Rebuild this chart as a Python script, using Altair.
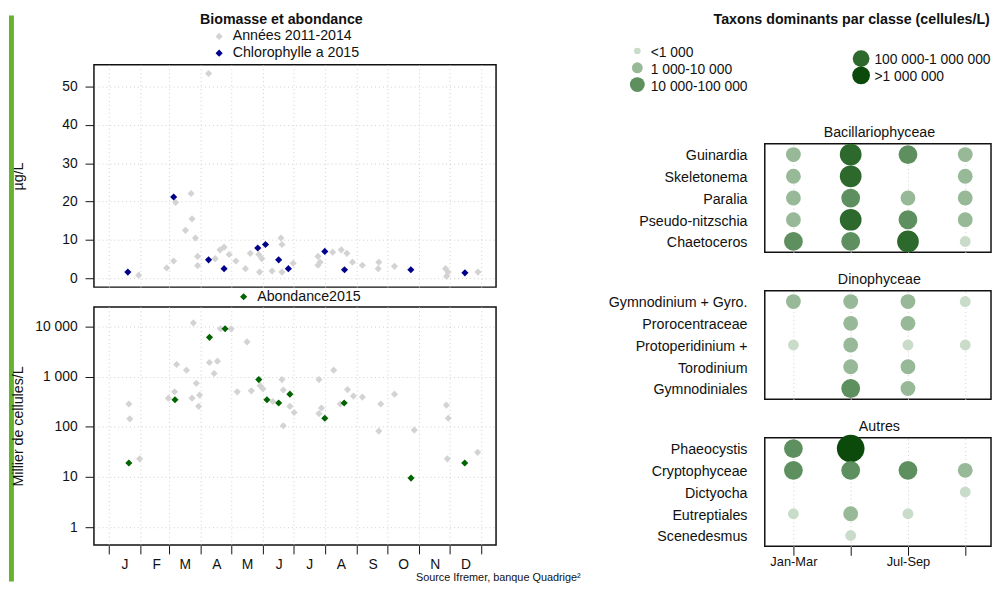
import json
import altair as alt
import pandas as pd

FONT = "Liberation Sans"
INK = "#111111"

# ---------------- data : chlorophylle a (µg/L) by day of year ----------------
chl_hist_day = [29.4, 56.8, 63.6, 65.5, 75.2, 80.7, 81.6, 84.9, 87.1, 87.1, 97.8, 104.3, 109.0, 113.0,
                118.0, 124.6, 133.9, 138.7, 147.0, 147.8, 150.0, 160.0, 168.7, 169.7, 169.7, 180.7,
                205.0, 205.0, 207.0, 219.4, 227.8, 233.3, 238.8, 248.5, 264.6, 264.0, 280.0, 330.0,
                332.4, 331.0, 361.8]
chl_hist_val = [0.8, 2.7, 4.5, 19.8, 12.5, 22.1, 15.5, 10.5, 5.7, 3.3, 53.4, 5.1, 7.4, 8.1,
                6.2, 4.5, 2.5, 6.5, 6.2, 1.6, 5.1, 1.9, 10.5, 8.8, 1.6, 3.9,
                5.7, 3.4, 4.2, 6.8, 7.4, 6.5, 4.2, 3.4, 4.2, 2.5, 3.1, 2.5,
                1.6, 0.5, 1.6]
chl_2015_day = [18.7, 63.6, 97.8, 113.0, 146.0, 153.6, 166.5, 176.0, 211.7, 231.0, 296.0, 349.0]
chl_2015_val = [1.6, 21.2, 4.8, 2.5, 7.9, 8.8, 4.8, 2.5, 7.0, 2.2, 2.2, 1.4]

# ---------------- data : abondance (milliers de cellules/L) ----------------
ab_hist_day = [19.7, 20.6, 30.3, 58.4, 64.5, 66.5, 76.2, 82.9, 81.6, 85.8, 88.1, 89.0, 98.7, 103.3,
               106.5, 109.5, 120.0, 125.9, 135.5, 139.7, 148.4, 151.0, 160.7, 169.7, 171.0, 171.0,
               177.5, 181.7, 206.0, 208.4, 206.0, 220.4, 226.8, 234.0, 239.8, 248.5, 264.6, 266.5,
               280.0, 299.4, 330.8, 332.7, 331.8, 361.4]
ab_hist_val = [284, 144, 23, 372, 498, 1740, 1340, 11700, 372, 735, 255, 427, 1910, 1150,
               2030, 8950, 8900, 497, 4900, 520, 660, 570, 318, 870, 540, 105,
               255, 192, 870, 236, 183, 1340, 284, 550, 408, 390, 82, 284,
               447, 86, 270, 148, 23, 31]
ab_2015_day = [19.7, 64.9, 98.7, 114.0, 147.0, 155.0, 166.5, 177.5, 211.7, 230.7, 296.2, 348.8]
ab_2015_val = [19, 345, 6050, 8950, 870, 345, 297, 447, 148, 297, 9.5, 19]

month_starts = [0, 31, 59, 90, 120, 151, 181, 212, 243, 273, 304, 334, 365]
month_letters = ["J", "F", "M", "A", "M", "J", "J", "A", "S", "O", "N", "D"]

LEG_HIST = "Années 2011-2014"
LEG_CHL = "Chlorophylle a 2015"
LEG_AB = "Abondance2015"
TITLE_LEFT = "Biomasse et abondance"
TITLE_RIGHT = "Taxons dominants par classe (cellules/L)"
SOURCE = "Source Ifremer, banque Quadrige²"

# ---------------- data : taxons dominants (classe 0 = absent) ----------------
quarters = ["Jan-Mar", "Avr-Jun", "Jul-Sep", "Oct-Déc"]
quarter_shown = [True, False, True, False]
bac_taxa = ["Guinardia", "Skeletonema", "Paralia", "Pseudo-nitzschia", "Chaetoceros"]
bac_cls = [[2, 4, 3, 2], [2, 4, 0, 2], [2, 3, 2, 2], [2, 4, 3, 2], [3, 3, 4, 1]]
din_taxa = ["Gymnodinium + Gyro.", "Prorocentraceae", "Protoperidinium +", "Torodinium", "Gymnodiniales"]
din_cls = [[2, 2, 2, 1], [0, 2, 2, 0], [1, 2, 1, 1], [0, 2, 2, 0], [0, 3, 2, 0]]
aut_taxa = ["Phaeocystis", "Cryptophyceae", "Dictyocha", "Eutreptiales", "Scenedesmus"]
aut_cls = [[3, 5, 0, 0], [3, 3, 3, 2], [0, 0, 0, 1], [1, 2, 1, 0], [0, 1, 0, 0]]
leg_labels = ["<1 000", "1 000-10 000", "10 000-100 000", "100 000-1 000 000", "\u00a0>1 000 000"]
leg_cls = [1, 2, 3, 4, 5]

# ---------------- styles ----------------
BUB_T = [1.5, 2.5, 3.5, 4.5]
BUB_COLORS = ["#c9dcc9", "#97b997", "#5e8f5e", "#2d692d", "#0b4a0b"]
BUB_SIZES = [121, 225, 361, 484, 784]
LEG_SIZES = [45, 121, 225, 289, 324]
GRID = dict(grid=True, gridColor="#cfcfcf", gridDash=[1, 3], gridWidth=1)

W_L, H_TOP, H_BOT = 407, 225, 241
X_DOM = [-14.5, 379.5]
W_R, H_R = 229, 110
Q_DOM = [0.5, 4.45]

one = pd.DataFrame({"k": [0]})


def label_text(txt, x, y, size=14.4, weight="normal"):
    return alt.Chart(pd.DataFrame({"t": [txt]})).mark_text(
        fontSize=size, fontWeight=weight, align="center", baseline="middle", color=INK).encode(
        x=alt.value(x), y=alt.value(y), text="t:N")


# ---------------- left : biomasse ----------------
x_scale = alt.Scale(domain=X_DOM, nice=False, zero=False)

bar = alt.Chart(one).mark_rect(color="#67b22f").encode(
    x=alt.value(-86), x2=alt.value(-81), y=alt.value(-50), y2=alt.value(523))

chl_df = pd.DataFrame({
    "day": chl_hist_day + chl_2015_day,
    "val": chl_hist_val + chl_2015_val,
    "serie": [LEG_HIST] * len(chl_hist_day) + [LEG_CHL] * len(chl_2015_day),
})

y_axis_common = dict(domain=False, tickSize=9, tickColor=INK, labelFontSize=14, labelColor=INK,
                     labelPadding=8, titleFontSize=14.4, titleFontWeight="normal", titleColor=INK,
                     titleAngle=270, titleX=-76, titleAlign="center", titleBaseline="middle",
                     labelOverlap=False)

top_pts = alt.Chart(chl_df).mark_point(shape="diamond", filled=True, size=52, opacity=1).encode(
    x=alt.X("day:Q", scale=x_scale,
            axis=alt.Axis(values=month_starts, labels=False, ticks=False, domain=False, title=None, **GRID)),
    y=alt.Y("val:Q", scale=alt.Scale(domain=[-2.32, 55.67], nice=False, zero=False),
            axis=alt.Axis(values=[0, 10, 20, 30, 40, 50], title="µg/L", titleY=H_TOP / 2,
                          **y_axis_common, **GRID)),
    color=alt.Color("serie:N", scale=alt.Scale(domain=[LEG_HIST, LEG_CHL], range=["#d3d3d3", "#00008b"]),
                    legend=alt.Legend(title=None, orient="none", legendX=119.5, legendY=-36,
                                      direction="vertical", symbolType="diamond", symbolSize=52,
                                      symbolStrokeWidth=0, symbolOpacity=1, labelFontSize=14.4,
                                      labelColor=INK, labelOffset=6.5, rowPadding=2, padding=0)),
)

top = alt.layer(bar, top_pts, label_text(TITLE_LEFT, 189.7, -45, weight="bold")).properties(
    width=W_L, height=H_TOP)

# ---------------- left : abondance ----------------
month_expr = f"{json.dumps(month_letters + [''])}[indexof({json.dumps(month_starts)}, datum.value)]"

x_ab = alt.X("day:Q", scale=x_scale,
             axis=alt.Axis(values=month_starts, labelExpr=month_expr, labelOffset=16, tickSize=9,
                           tickColor=INK, domain=False, title=None, labelFontSize=14, labelColor=INK,
                           labelPadding=11, labelBaseline="middle", labelFlush=False,
                           labelOverlap=False, labelSeparation=0, **GRID))
y_ab = alt.Y("val:Q", scale=alt.Scale(type="log", domain=[0.4425, 24420], nice=False),
             axis=alt.Axis(values=[1, 10, 100, 1000, 10000],
                           labelExpr="datum.value >= 1000 ? format(datum.value / 1000, 'd') + ' 000' : format(datum.value, 'd')",
                           title="Millier de cellules/L", titleY=H_BOT / 2, **y_axis_common, **GRID))

ab_grey = alt.Chart(pd.DataFrame({"day": ab_hist_day, "val": ab_hist_val})).mark_point(
    shape="diamond", filled=True, size=52, opacity=1, color="#d3d3d3").encode(x=x_ab, y=y_ab)
ab_green = alt.Chart(pd.DataFrame({"day": ab_2015_day, "val": ab_2015_val,
                                   "serie": [LEG_AB] * len(ab_2015_day)})).mark_point(
    shape="diamond", filled=True, size=52, opacity=1).encode(
    x=x_ab, y=y_ab,
    color=alt.Color("serie:N", scale=alt.Scale(domain=[LEG_AB], range=["#006400"]),
                    legend=alt.Legend(title=None, orient="none", legendX=144.3, legendY=-17.5,
                                      symbolType="diamond", symbolSize=52, symbolStrokeWidth=0,
                                      symbolOpacity=1, labelFontSize=14.4, labelColor=INK,
                                      labelOffset=6.5, padding=0)),
)

bottom = alt.layer(ab_grey, ab_green, label_text(SOURCE, 409.3, 274, size=11)).properties(
    width=W_L, height=H_BOT)

left = alt.vconcat(top, bottom, spacing=20, bounds="flush").resolve_scale(
    color="independent", x="independent", y="independent")

# ---------------- right : header (title + legend) ----------------
leg_base = alt.Chart(pd.DataFrame({"label": leg_labels, "cls": leg_cls})).transform_calculate(
    lx="datum.cls <= 3 ? 0 : 1",
    ly="datum.cls <= 3 ? datum.cls - 1 : datum.cls - 3.55")
lx_enc = alt.X("lx:Q", scale=alt.Scale(domain=[0, 1], range=[-129, 97.5]), axis=None)
ly_enc = alt.Y("ly:Q", scale=alt.Scale(domain=[0, 2], range=[-14, 20]), axis=None)
leg_pts = leg_base.mark_circle(opacity=1).encode(
    x=lx_enc, y=ly_enc,
    size=alt.Size("cls:Q", scale=alt.Scale(type="threshold", domain=BUB_T, range=LEG_SIZES), legend=None),
    color=alt.Color("cls:Q", scale=alt.Scale(type="threshold", domain=BUB_T, range=BUB_COLORS), legend=None))
leg_txt = leg_base.mark_text(align="left", baseline="middle", dx=13.5, dy=2, fontSize=14, color=INK).encode(
    x=lx_enc, y=ly_enc, text="label:N")

header = alt.layer(label_text(TITLE_RIGHT, 88, -45, weight="bold"), leg_pts, leg_txt).properties(
    width=W_R, height=41, view=alt.ViewBackground(strokeOpacity=0))

# ---------------- right : bubble panels ----------------
q_expr = json.dumps([q if s else "" for q, s in zip(quarters, quarter_shown)]) + "[datum.value - 1]"


def panel(name, taxa, cls, last):
    rows = []
    for t, vals in zip(taxa, cls):
        for q, c in enumerate(vals, start=1):
            if c:
                rows.append({"taxon": t, "q": q, "cls": c})
    df = pd.DataFrame(rows)
    if last:
        xaxis = alt.Axis(values=[1, 2, 3, 4], title=None, domain=False, ticks=True, tickSize=9,
                         tickColor=INK, labelExpr=q_expr, labelFontSize=13, labelColor=INK,
                         labelPadding=6, labelBaseline="middle", labelFlush=False,
                         labelOverlap=False, **GRID)
    else:
        xaxis = alt.Axis(values=[1, 2, 3, 4], title=None, domain=False, ticks=False, labels=False, **GRID)
    pts = alt.Chart(df).mark_circle(opacity=1).encode(
        x=alt.X("q:Q", scale=alt.Scale(domain=Q_DOM, nice=False, zero=False), axis=xaxis),
        y=alt.Y("taxon:N", sort=taxa, scale=alt.Scale(type="point", padding=0.5, domain=taxa),
                axis=alt.Axis(title=None, ticks=False, domain=False, grid=False, labelFontSize=14.4,
                              labelColor=INK, labelPadding=18, labelOffset=1.5)),
        size=alt.Size("cls:Q", scale=alt.Scale(type="threshold", domain=BUB_T, range=BUB_SIZES), legend=None),
        color=alt.Color("cls:Q", scale=alt.Scale(type="threshold", domain=BUB_T, range=BUB_COLORS), legend=None),
    )
    return alt.layer(pts, label_text(name, 116, -10.5)).properties(width=W_R, height=H_R)


p1 = panel("Bacillariophyceae", bac_taxa, bac_cls, False)
p2 = panel("Dinophyceae", din_taxa, din_cls, False)
p3 = panel("Autres", aut_taxa, aut_cls, True)

right = alt.vconcat(header, p1, p2, p3, spacing=38.8, bounds="flush").resolve_scale(
    color="independent", size="independent", x="independent", y="independent")

chart = alt.hconcat(left, right, spacing=25).resolve_scale(
    color="independent", size="independent", x="independent", y="independent"
).properties(padding=0).configure(font=FONT).configure_view(
    stroke=INK, strokeWidth=1.5
).configure_axis(labelFont=FONT, titleFont=FONT, labelOverlap=False).configure_legend(labelFont=FONT)

chart.save("out.html", embed_options={"renderer": "svg", "actions": False})
